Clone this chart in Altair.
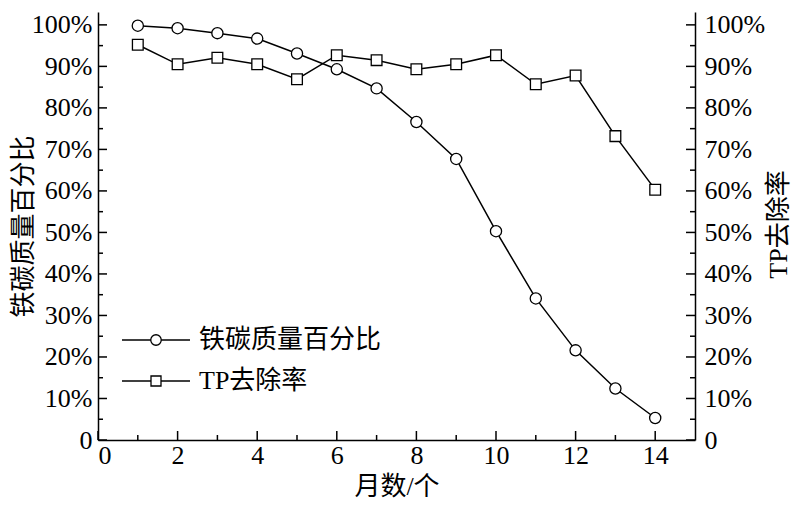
import altair as alt
import pandas as pd

months = list(range(1, 15))
fe_c_pct = [99.8, 99.2, 98.0, 96.7, 93.1, 89.3, 84.7, 76.6, 67.7, 50.3, 34.1, 21.6, 12.4, 5.3]
tp_removal = [95.2, 90.5, 92.1, 90.5, 86.9, 92.7, 91.5, 89.3, 90.5, 92.7, 85.7, 87.8, 73.2, 60.3]
series_names = ["铁碳质量百分比", "TP去除率"]
x_major = [0, 2, 4, 6, 8, 10, 12, 14]
x_minor = [1, 3, 5, 7, 9, 11, 13]
y_major = [0, 10, 20, 30, 40, 50, 60, 70, 80, 90, 100]
y_minor = [5, 15, 25, 35, 45, 55, 65, 75, 85, 95]

df = pd.DataFrame({"month": months, "fe": fe_c_pct, "tp": tp_removal})

W, H = 597, 428
FONT = "Liberation Serif, Noto Sans CJK SC"
FS = 26
XDOM = [0, 15]
YDOM = [0, 103.1]
lab_expr = "datum.value == 0 ? '0' : datum.value + '%'"
TICK_COLOR = "black"


def xs(axis, field="month"):
    return alt.X(f"{field}:Q", scale=alt.Scale(domain=XDOM, nice=False, zero=False), axis=axis)


def ys(field, axis):
    return alt.Y(f"{field}:Q", scale=alt.Scale(domain=YDOM, nice=False), axis=axis)


x_main_axis = alt.Axis(values=x_major, format="d", labelFont=FONT, labelFontSize=FS, labelColor="black",
                       labelPadding=2, ticks=False, tickSize=0, domainColor="black", domainWidth=1.5,
                       grid=False, title="月数/个", titleFont=FONT, titleFontSize=FS, titleFontWeight="normal",
                       titleColor="black", titleX=W / 2, titleY=46, titleBaseline="middle")

y_left_axis = alt.Axis(orient="left", values=y_major, labelExpr=lab_expr, labelFont=FONT, labelFontSize=FS,
                       labelColor="black", labelPadding=6, ticks=False, tickSize=0, domainColor="black",
                       domainWidth=1.5, grid=False, title=series_names[0], titleFont=FONT, titleFontSize=FS,
                       titleFontWeight="normal", titleColor="black", titleAngle=270, titleX=-75, titleY=H / 2,
                       titleBaseline="middle", titleAlign="center")

y_right_axis = alt.Axis(orient="right", values=y_major, labelExpr=lab_expr, labelFont=FONT, labelFontSize=FS,
                        labelColor="black", labelPadding=9, ticks=False, tickSize=0, domainColor="black",
                        domainWidth=1.5, grid=False, title=series_names[1], titleFont=FONT, titleFontSize=FS,
                        titleFontWeight="normal", titleColor="black", titleAngle=270, titleX=83, titleY=H / 2 - 2,
                        titleBaseline="middle", titleAlign="center")

line_fe = alt.Chart(df).mark_line(
    color="black", strokeWidth=1.5,
    point=alt.OverlayMarkDef(shape="circle", filled=True, fill="white", stroke="black", strokeWidth=1.3,
                             size=125, opacity=1)
).encode(x=xs(x_main_axis), y=ys("fe", y_left_axis))

line_tp = alt.Chart(df).mark_line(
    color="black", strokeWidth=1.5,
    point=alt.OverlayMarkDef(shape="square", filled=True, fill="white", stroke="black", strokeWidth=1.3,
                             size=115, opacity=1)
).encode(x=xs(None), y=ys("tp", y_right_axis))

# inward-pointing tick marks, positioned through the same scales
tick_layers = []
for vals, ln in [(y_major, 9), (y_minor, 5)]:
    td = pd.DataFrame({"v": vals})
    tick_layers.append(alt.Chart(td).mark_rule(color=TICK_COLOR, strokeWidth=1.5).encode(
        x=alt.value(0), x2=alt.value(ln), y=ys("v", None)))
    tick_layers.append(alt.Chart(td).mark_rule(color=TICK_COLOR, strokeWidth=1.5).encode(
        x=alt.value(W - ln), x2=alt.value(W), y=ys("v", None)))
for vals, ln in [(x_major, 9), (x_minor, 5)]:
    td = pd.DataFrame({"v": vals})
    tick_layers.append(alt.Chart(td).mark_rule(color=TICK_COLOR, strokeWidth=1.5).encode(
        x=xs(None, "v"), y=alt.value(H - ln), y2=alt.value(H)))

# manual legend
leg_layers = []
for i, (name, shape, size) in enumerate([(series_names[0], "circle", 110), (series_names[1], "square", 100)]):
    ld = pd.DataFrame({"label": [name]})
    yv = 328 + i * 41
    leg_layers.append(alt.Chart(ld).mark_rule(color="black", strokeWidth=1.5).encode(
        x=alt.value(24), x2=alt.value(92), y=alt.value(yv)))
    leg_layers.append(alt.Chart(ld).mark_point(shape=shape, filled=True, fill="white", stroke="black",
                                               strokeWidth=1.3, size=size, opacity=1).encode(
        x=alt.value(58), y=alt.value(yv)))
    leg_layers.append(alt.Chart(ld).mark_text(font=FONT, fontSize=FS, align="left", baseline="middle",
                                              color="black").encode(
        x=alt.value(101), y=alt.value(yv), text="label:N"))

chart = alt.layer(line_fe, line_tp, *tick_layers, *leg_layers).resolve_scale(
    x="independent", y="independent"
).properties(
    width=W, height=H,
    autosize=alt.AutoSizeParams(type="none"),
    padding={"left": 90, "top": 4, "right": 97, "bottom": 59},
    background="white",
).configure_view(stroke=None)

chart.save("out.html", embed_options={"renderer": "svg", "actions": False})
